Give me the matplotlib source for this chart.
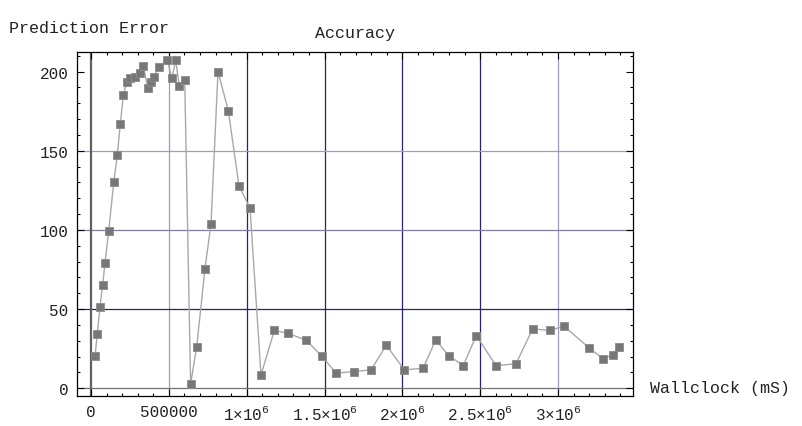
import numpy as np
import matplotlib as mpl
mpl.use("Agg")
import matplotlib.pyplot as plt
from matplotlib.ticker import MultipleLocator, FixedLocator

# wallclock (mS) vs prediction error
wallclock = [25700, 40500, 57800, 75000, 90000, 113700, 145800, 169000, 188000,
             207500, 229000, 250500, 282600, 314800, 336000, 364000, 383500,
             404700, 435000, 490000, 520000, 544000, 567000, 602000, 640000,
             679000, 732000, 771000, 815800, 882000, 950700, 1021400, 1092000,
             1177500, 1267500, 1381000, 1484000, 1574000, 1687500, 1799000,
             1897000, 2012600, 2132700, 2214300, 2299800, 2391600, 2475100,
             2601700, 2730000, 2837000, 2948600, 3038500, 3199000, 3291000,
             3351000, 3390000]
pred_error = [20.3, 34.4, 51.5, 65.4, 79.1, 99.4, 130, 147.2, 166.8, 185,
              193.7, 195.8, 196.8, 198.9, 203.8, 189.9, 193.7, 196.8, 202.7,
              207.3, 195.8, 207.3, 190.9, 194.7, 2.7, 26.3, 75.5, 104, 200,
              175.3, 127.8, 113.9, 8.4, 36.5, 34.6, 30.4, 20.2, 9.5, 10.5,
              11.6, 27.2, 11.6, 12.6, 30.4, 20.4, 14.3, 33.3, 14.3, 15.4,
              37.5, 36.5, 39.2, 25.5, 18.5, 21.3, 26.1]

x_ticks = [0, 500000, 1000000, 1500000, 2000000, 2500000, 3000000]
x_labels = ['0', '500000', r'$\mathregular{1×10^{6}}$', r'$\mathregular{1.5×10^{6}}$',
            r'$\mathregular{2×10^{6}}$', r'$\mathregular{2.5×10^{6}}$',
            r'$\mathregular{3×10^{6}}$']
y_ticks = [0, 50, 100, 150, 200]

# grid lines (position, colour) as they show up in the picture
dark = '#232378'
light = '#9c9ccc'
vgrid = [(500000, light), (1000000, dark), (1500000, dark),
         (2000000, dark), (2500000, dark), (3000000, light)]
hgrid = [(50, dark), (100, '#7e7e9e'), (150, light)]

mono = 'Liberation Mono'
plt.rcParams['font.family'] = [mono, 'DejaVu Sans Mono']
plt.rcParams['mathtext.fontset'] = 'custom'
plt.rcParams['mathtext.rm'] = mono
plt.rcParams['mathtext.it'] = mono
plt.rcParams['mathtext.bf'] = mono

fig = plt.figure(figsize=(8.03, 4.27), dpi=100)
ax = fig.add_axes([0.0959, 0.0703, 0.6924, 0.8056])

for xv, c in vgrid:
    ax.axvline(xv, color=c, lw=0.9, zorder=1)
for yv, c in hgrid:
    ax.axhline(yv, color=c, lw=0.9, zorder=1)
# axes through origin
ax.axvline(0, color='#606060', lw=1.6, zorder=1.5)
ax.axhline(0, color='#707070', lw=0.9, zorder=1.5)

ax.plot(wallclock, pred_error, color='#a8a8a8', lw=1.0, zorder=2)
ax.plot(wallclock, pred_error, ls='none', marker='s', ms=6.0,
        mfc='#777777', mec='#8c8c8c', mew=0.6, zorder=3)

ax.set_xlim(-89900, 3481700)
ax.set_ylim(-4.9, 212.4)

ax.xaxis.set_major_locator(FixedLocator(x_ticks))
ax.set_xticklabels(x_labels)
ax.xaxis.set_minor_locator(MultipleLocator(100000))
ax.yaxis.set_major_locator(FixedLocator(y_ticks))
ax.yaxis.set_minor_locator(MultipleLocator(10))

ax.tick_params(which='both', direction='in', top=True, right=True,
               labelsize=11.5, colors='black', width=0.8)
ax.tick_params(which='major', length=5)
ax.tick_params(which='minor', length=2.5)
ax.tick_params(axis='x', pad=6)
ax.tick_params(axis='y', pad=6)
for lab in ax.get_xticklabels() + ax.get_yticklabels():
    lab.set_color('#222222')

for s in ax.spines.values():
    s.set_linewidth(0.9)
    s.set_color('black')

ax.set_title('Accuracy', fontsize=12, pad=11, color='#222222')
fig.text(0.011, 0.934, 'Prediction Error', fontsize=12, va='center', ha='left',
         color='#222222')
fig.text(0.809, 0.091, 'Wallclock (mS)', fontsize=12, va='center', ha='left',
         color='#222222')

fig.savefig('out.png', dpi=100)
